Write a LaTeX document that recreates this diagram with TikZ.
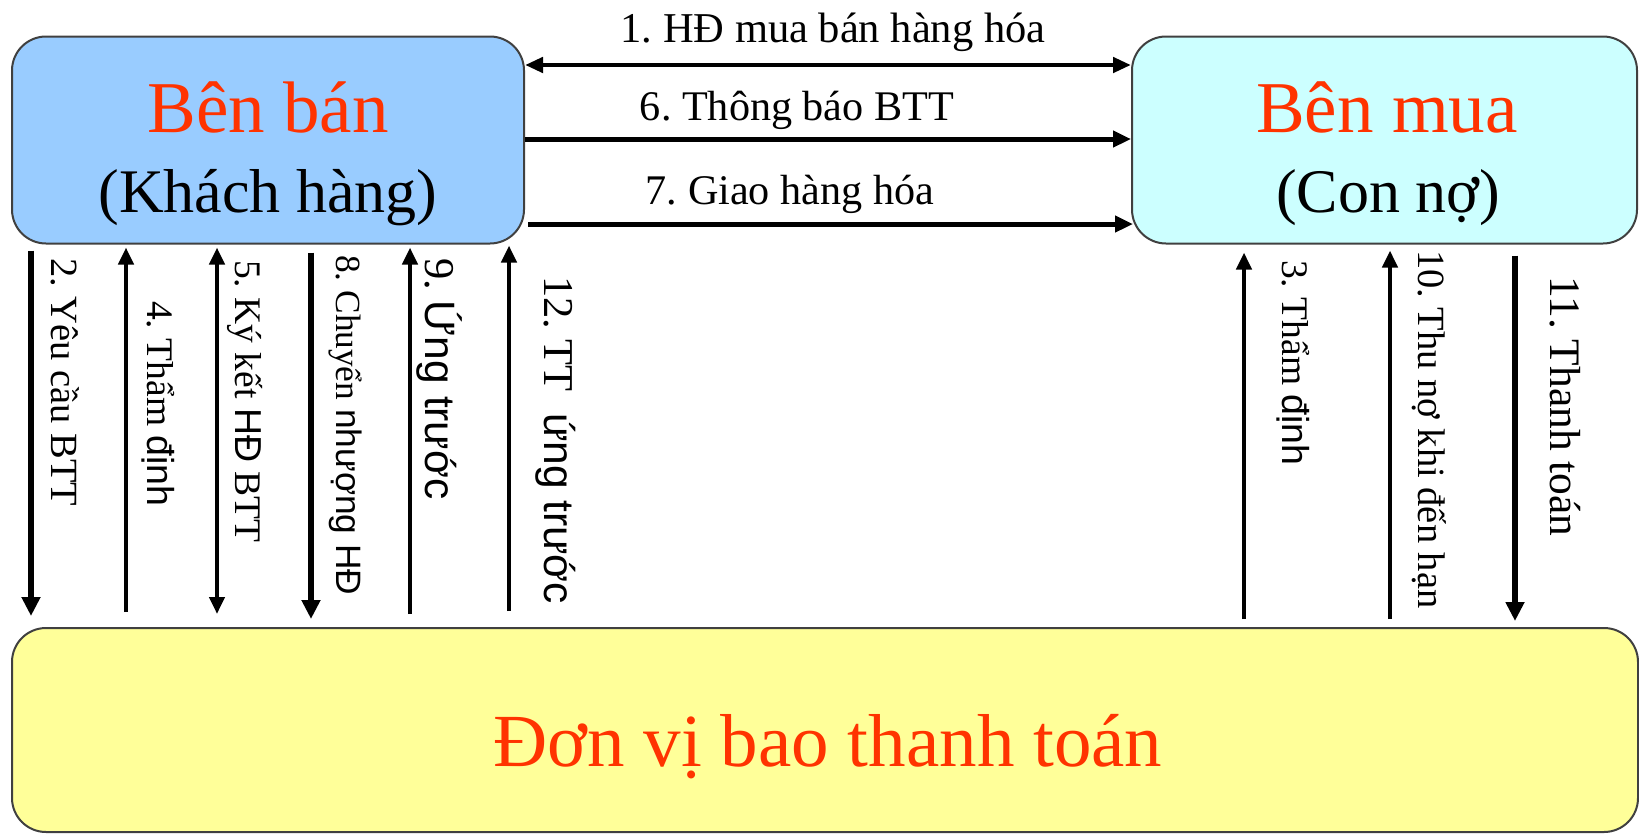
\documentclass[tikz,border=0pt]{standalone}
\usepackage{fontspec}
\setmainfont{Liberation Serif}
\newfontfamily\sansf{Liberation Sans}
\usetikzlibrary{arrows.meta}
\definecolor{boxblue}{HTML}{99CCFF}
\definecolor{boxcyan}{HTML}{CCFFFF}
\definecolor{boxyellow}{HTML}{FFFF99}
\definecolor{titlered}{HTML}{FF3300}
\newcommand{\fsz}[1]{\fontsize{#1}{#1}\selectfont}
\frenchspacing
\begin{document}
\begin{tikzpicture}[x=1pt,y=-1pt,
  party/.style={draw=black!75, line width=2pt, rounded corners=34pt, inner sep=0pt},
  titletxt/.style={text=titlered, font=\fsz{73}, anchor=base, inner sep=0pt},
  subtxt/.style={font=\fsz{62}, anchor=base, inner sep=0pt},
  hlabel/.style={font=\fsz{42.2}, anchor=base, inner sep=0pt},
  vlabel/.style={font=\fsz{37.5}, rotate=-90, anchor=west, inner sep=0pt},
  vbig/.style={font=\fsz{42.5}},
  thickarrow/.style={line width=6pt, -{Triangle[length=19pt,width=18pt]}},
  thinarrow/.style={line width=4.5pt, -{Triangle[length=17pt,width=15pt]}},
  thinboth/.style={line width=4.5pt, {Triangle[length=17pt,width=15pt]}-{Triangle[length=17pt,width=15pt]}},
  harrow/.style={line width=5pt, -{Triangle[length=18pt,width=16pt]}},
  hboth/.style={line width=4.5pt, {Triangle[length=18pt,width=15pt]}-{Triangle[length=18pt,width=15pt]}},
]
\useasboundingbox (0,0) rectangle (1639,833);

% boxes
\node[party, fill=boxblue, minimum width=512pt, minimum height=207pt] (sell) at (268,140) {};
\node[party, fill=boxcyan, minimum width=505pt, minimum height=207pt] (buy) at (1384.5,140) {};
\node[party, fill=boxyellow, minimum width=1626pt, minimum height=204pt] (factor) at (825,730) {};

% box texts
\node[titletxt] (sellT) at (268,132) {Bên bán};
\node[subtxt] (sellS) at (268,212) {(Khách hàng)};
\node[titletxt] (buyT) at (1387,132) {Bên mua};
\node[subtxt] (buyS) at (1388,212) {(Con nợ)};
\node[titletxt, font=\fsz{75}] (factT) at (828,766) {Đơn vị bao thanh toán};

% horizontal connectors
\draw[hboth] (sell.east |- 0,65) -- (buy.west |- 0,65);
\draw[harrow] (sell.east |- 0,139) -- (buy.west |- 0,139);
\draw[harrow] ([xshift=3pt]sell.east |- 0,224) -- ([xshift=2pt]buy.west |- 0,224);

\node[hlabel, font=\fsz{42.5}] (l1) at (833,42) {1. HĐ mua bán hàng hóa};
\node[hlabel] (l6) at (797,120) {6. Thông báo BTT};
\node[hlabel] (l7) at (790,204) {7. Giao hàng hóa};

% vertical connectors (left group)
\draw[thickarrow] ([yshift=-6pt]sell.south -| 31,0) -- ([yshift=11pt]factor.north -| 31,0);
\draw[thinarrow] ([yshift=15pt]factor.north -| 126,0) -- ([yshift=-3pt]sell.south -| 126,0);
\draw[thinboth] ([yshift=-3pt]sell.south -| 217,0) -- ([yshift=13pt]factor.north -| 217,0);
\draw[thickarrow] ([yshift=-8pt]sell.south -| 311,0) -- ([yshift=8pt]factor.north -| 311,0);
\draw[thinarrow] ([yshift=13pt]factor.north -| 410,0) -- ([yshift=-3pt]sell.south -| 410,0);
\draw[thinarrow] ([yshift=16pt]factor.north -| 509,0) -- ([yshift=-1pt]sell.south -| 509,0);

% vertical connectors (right group)
\draw[thinarrow] ([yshift=8pt]factor.north -| 1244,0) -- ([yshift=-8pt]buy.south -| 1244,0);
\draw[thinarrow] ([yshift=8pt]factor.north -| 1390,0) -- ([yshift=-6pt]buy.south -| 1390,0);
\draw[thickarrow] ([yshift=-11pt]buy.south -| 1515,0) -- ([yshift=6pt]factor.north -| 1515,0);

% vertical labels
\node[vlabel, font=\fsz{38.5}] (t2) at (65,258) {2. Yêu cầu BTT};
\node[vlabel] (t4) at (158,301) {4. Thẩm {\sansf định}};
\node[vlabel] (t5) at (245,260) {5. Ký kết {\sansf HĐ} BTT};
\node[vlabel, font=\fsz{35.3}] (t8) at (345,255) {8. Chuyển {\sansf nhượng HĐ}};
\node[vlabel, vbig] (t9) at (440,258) {9. {\sansf Ứng trước}};
\node[vlabel, vbig] (t12) at (556,276) {12. TT\ \ {\sansf ứng trước}};
\node[vlabel] (t3) at (1293,260) {3. Thẩm {\sansf định}};
\node[vlabel, font=\fsz{38.5}] (t10) at (1429,250) {10. Thu nợ khi đến hạn};
\node[vlabel, font=\fsz{43.5}] (t11) at (1565,276) {11. Thanh toán};
\end{tikzpicture}
\end{document}
